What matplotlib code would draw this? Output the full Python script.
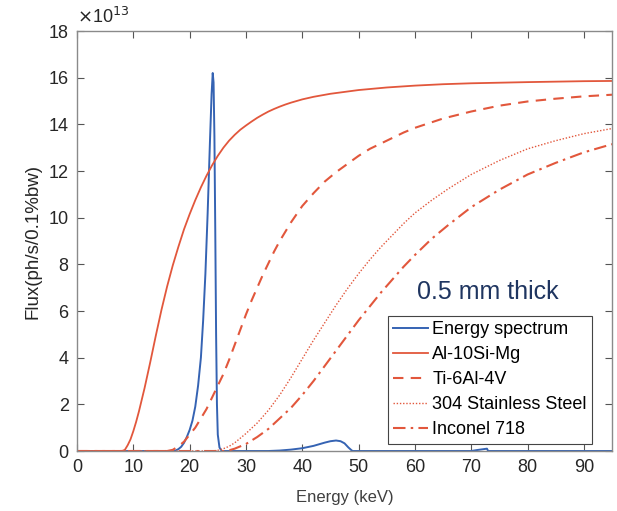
import matplotlib
matplotlib.use("Agg")
import matplotlib.pyplot as plt

plt.rcParams['font.family'] = ['Liberation Sans', 'DejaVu Sans']

# Energy (keV) and flux (x1e13 ph/s/0.1%bw)
spec_e = [0, 17, 17.5, 18, 18.5, 19, 19.5, 20, 20.5, 21, 21.5, 22, 22.4, 22.8, 23.2, 23.6, 23.9, 24.1, 24.25,
          24.4, 24.55, 24.7, 24.85, 25.0, 25.3, 25.7,
          34, 36, 38, 40, 42, 43, 44, 45, 46, 46.8, 47.5, 48.2, 48.8, 49, 70, 71, 72.8, 73, 95]
spec_f = [0, 0, 0.02, 0.08, 0.18, 0.35, 0.6, 0.9, 1.3, 1.9, 2.8, 4.0, 5.6, 7.6, 10.2, 13.2, 15.3, 16.2, 15.8,
          13.5, 9.5, 5.0, 2.0, 0.7, 0.15, 0,
          0, 0.02, 0.06, 0.12, 0.22, 0.29, 0.36, 0.42, 0.45, 0.42, 0.33, 0.15, 0.02, 0, 0, 0.04, 0.1, 0, 0]

al_e = [0, 8, 8.5, 9, 9.5, 10, 10.5, 11, 11.5, 12, 13, 14, 15, 16, 17, 18, 19, 20, 21, 22, 23, 24, 25, 26, 27,
        28, 29, 30, 31, 32, 33, 34, 35, 36, 37, 38, 40, 42, 45, 50, 55, 60, 65, 70, 80, 90, 95]
al_f = [0, 0, 0.05, 0.25, 0.5, 0.85, 1.25, 1.7, 2.2, 2.7, 3.8, 4.95, 6.05, 7.05, 7.95, 8.75, 9.5, 10.15, 10.75,
        11.3, 11.8, 12.25, 12.65, 13.0, 13.3, 13.55, 13.77, 13.95, 14.12, 14.28, 14.42, 14.55, 14.66, 14.76,
        14.85, 14.93, 15.07, 15.18, 15.31, 15.47, 15.58, 15.66, 15.72, 15.76, 15.81, 15.85, 15.86]

ti_e = [0, 16, 17, 18, 19, 20, 21, 22, 23, 24, 25, 26, 27, 28, 29, 30, 31, 32, 33, 34, 35, 36, 37, 38, 40, 42,
        44, 46, 48, 50, 52, 55, 58, 60, 65, 70, 75, 80, 85, 90, 95]
ti_f = [0, 0, 0.05, 0.2, 0.4, 0.7, 1.0, 1.4, 1.8, 2.3, 2.8, 3.3, 3.9, 4.55, 5.2, 5.85, 6.45, 7.0, 7.55, 8.05,
        8.55, 9.0, 9.4, 9.8, 10.5, 11.05, 11.55, 11.95, 12.3, 12.65, 12.95, 13.3, 13.65, 13.85, 14.25, 14.55,
        14.8, 14.98, 15.1, 15.2, 15.27]

ss_e = [0, 24, 25, 26, 27, 28, 29, 30, 32, 34, 36, 38, 40, 42, 44, 46, 48, 50, 52, 54, 56, 58, 60, 63, 66, 70,
        75, 80, 85, 90, 95]
ss_f = [0, 0, 0.03, 0.1, 0.2, 0.35, 0.55, 0.75, 1.2, 1.75, 2.4, 3.15, 3.95, 4.75, 5.5, 6.25, 6.95, 7.6, 8.2,
        8.75, 9.25, 9.75, 10.2, 10.75, 11.25, 11.85, 12.45, 12.95, 13.3, 13.6, 13.82]

in_e = [0, 26, 27, 28, 29, 30, 32, 34, 36, 38, 40, 42, 44, 46, 48, 50, 52, 54, 56, 58, 60, 63, 66, 70, 75, 80,
        85, 90, 95]
in_f = [0, 0, 0.03, 0.1, 0.2, 0.3, 0.6, 0.95, 1.4, 1.85, 2.4, 3.0, 3.65, 4.3, 4.95, 5.6, 6.2, 6.8, 7.35, 7.9,
        8.4, 9.1, 9.7, 10.45, 11.2, 11.85, 12.35, 12.8, 13.15]

labels = ["Energy spectrum", "Al-10Si-Mg", "Ti-6Al-4V", "304 Stainless Steel", "Inconel 718"]
xticks = [0, 10, 20, 30, 40, 50, 60, 70, 80, 90]
yticks = [0, 2, 4, 6, 8, 10, 12, 14, 16, 18]

blue = '#3563b3'
red = '#e2573c'

fig = plt.figure(figsize=(6.17, 5.11), dpi=100)
ax = fig.add_axes([0.1248, 0.1174, 0.8671, 0.8219])

ax.plot(spec_e, spec_f, color=blue, lw=1.4, label=labels[0])
ax.plot(al_e, al_f, color=red, lw=1.3, label=labels[1])
ax.plot(ti_e, ti_f, color=red, lw=1.5, ls=(0, (5, 3.5)), label=labels[2])
ax.plot(ss_e, ss_f, color=red, lw=1.0, ls=(0, (1, 1.3)), label=labels[3])
ax.plot(in_e, in_f, color=red, lw=1.5, ls=(0, (6, 2.5, 1.2, 2.5)), label=labels[4])

ax.set_xlim(0, 95)
ax.set_ylim(0, 18)
ax.set_xticks(xticks)
ax.set_yticks(yticks)
ax.tick_params(direction='in', top=True, right=True, labelsize=13, length=5, width=0.8,
               color='#555555', labelcolor='#262626', pad=6)
for s in ax.spines.values():
    s.set_color('#8a8a8a')
    s.set_linewidth(1.0)

ax.set_xlabel("Energy (keV)", fontsize=12, color='#404040', labelpad=10)
ax.set_ylabel("Flux(ph/s/0.1%bw)", fontsize=13.5, color='#262626', labelpad=5)

ax.text(0.0, 1.01, r"$\times$10$^{13}$", transform=ax.transAxes, fontsize=13, color='#262626',
        ha='left', va='bottom')

ax.text(60.3, 6.8, "0.5 mm thick", fontsize=18, color='#1f3560', ha='left', va='center')

leg = ax.legend(loc='lower right', bbox_to_anchor=(0.963, 0.017), fontsize=13, frameon=True,
                fancybox=False, framealpha=1, edgecolor='#444444', handlelength=1.9,
                handletextpad=0.25, borderpad=0.3, labelspacing=0.45, borderaxespad=0)
leg.get_frame().set_linewidth(0.8)

fig.savefig("out.png", dpi=100)
